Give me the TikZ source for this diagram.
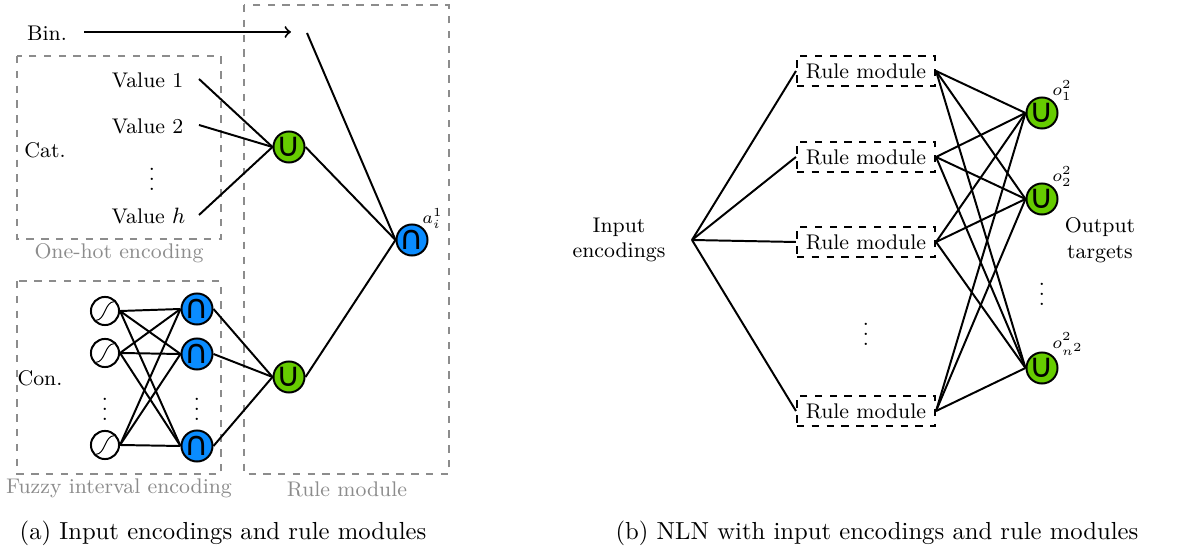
\documentclass[tikz,border=0pt]{standalone}
\usepackage{amsmath}
\usepackage{fontspec}
\newfontfamily\gatefont{DejaVu Sans}
\usetikzlibrary{calc}

\definecolor{orgreen}{RGB}{102,204,0}
\definecolor{andblue}{RGB}{10,140,255}
\definecolor{boxgray}{RGB}{140,140,140}

\newcommand{\orsym}{{\gatefont ∪}}
\newcommand{\andsym}{{\gatefont ∩}}

\begin{document}
\begin{tikzpicture}[x=0.01425cm,y=-0.01425cm,
	every node/.style={font=\fontsize{8.6}{10.5}\selectfont},
	conn/.style={thick},
	orgate/.style={circle,draw,thick,fill=orgreen,minimum size=11.8pt,inner sep=0pt,font=\fontsize{13.5}{13.5}\selectfont},
	andgate/.style={circle,draw,thick,fill=andblue,minimum size=12.2pt,inner sep=0pt,font=\fontsize{13.5}{13.5}\selectfont},
	sigm/.style={circle,draw,thick,fill=white,minimum size=11.4pt,inner sep=0pt,
		path picture={\draw[thin] ([xshift=-3.8pt,yshift=-3.8pt]path picture bounding box.center)
			.. controls +(4pt,0) and +(-4pt,0) .. ([xshift=3.8pt,yshift=3.8pt]path picture bounding box.center);}},
	encbox/.style={draw=boxgray,semithick,dashed},
	graylabel/.style={text=boxgray},
	rulebox/.style={draw,thick,dashed,minimum width=56pt,minimum height=12.2pt,inner sep=0.5pt},
	caption/.style={font=\normalsize}]

\useasboundingbox (0,0) rectangle (1185,547);

% (a) input encodings and rule modules
\draw[encbox] (17,56) rectangle (221,239);
\node[graylabel] (lonehot) at (119,253) {One-hot encoding};
\draw[encbox] (17,281) rectangle (221,474);
\node[graylabel] (lfuzzy) at (119,488) {Fuzzy interval encoding};
\draw[encbox] (244,5) rectangle (449,474);
\node[graylabel] (lrule) at (347,489) {Rule module};

\node (bin) at (47,33) {Bin.};
\node (cat) at (45,150) {Cat.};
\node (con) at (40,378) {Con.};

\node[anchor=east] (val1) at (192,80) {Value 1};
\node[anchor=east] (val2) at (192,126) {Value 2};
\node (valdots) at (152,172) {$\vdots$};
\node[anchor=east] (valh) at (194,216) {Value $h$};
\coordinate (v1) at (199,79);
\coordinate (v2) at (199,125);
\coordinate (vh) at (199,215);

\node[orgate] (orA) at (289,147) {\orsym};
\node[orgate] (orB) at (289,377) {\orsym};
\node[andgate] (andout) at (412,240) {\andsym};
\node[anchor=south west,inner sep=0pt,font=\scriptsize] (aout) at (422,229) {$a^1_i$};

\coordinate (binstart) at (84,32);
\coordinate (binarrow) at (291,32);
\coordinate (binend) at (307,33);
\draw[conn,->] (binstart) -- (binarrow);

\node[sigm] (sig1) at (105,311) {};
\node[sigm] (sig2) at (105,353) {};
\node[sigm] (sig3) at (105,445) {};
\node (sigdots) at (105,402) {$\vdots$};
\node[andgate] (and1) at (197,309) {\andsym};
\node[andgate] (and2) at (197,354) {\andsym};
\node[andgate] (and3) at (197,446) {\andsym};
\node (anddots) at (197,402) {$\vdots$};

\foreach \s in {1,2,3}{
\foreach \a in {1,2,3}{
	\draw[conn] (sig\s.east) -- (and\a.west);
}
}
\foreach \v in {v1,v2,vh}{
	\draw[conn] (\v) -- (orA.west);
}
\foreach \a in {1,2,3}{
	\draw[conn] (and\a.east) -- (orB.west);
}
\draw[conn] (orA.east) -- (andout.west);
\draw[conn] (orB.east) -- (andout.west);
\draw[conn] (binend) -- (andout.west);

\node[caption] (capa) at (223,533) {(a) Input encodings and rule modules};

% (b) NLN
\node[align=center] (inenc) at (619,240) {Input\\encodings};
\coordinate (inp) at (692,240);

\node[rulebox] (rm1) at (866,71) {Rule module};
\node[rulebox] (rm2) at (866,157) {Rule module};
\node[rulebox] (rm3) at (866,242) {Rule module};
\node (rmdots) at (866,327) {$\vdots$};
\node[rulebox] (rm4) at (866,411) {Rule module};

\node[orgate] (out1) at (1042,113) {\orsym};
\node[orgate] (out2) at (1042,199) {\orsym};
\node (outdots) at (1042,287) {$\vdots$};
\node[orgate] (out3) at (1042,368) {\orsym};
\node[anchor=south west,inner sep=0pt,font=\scriptsize] (o1) at (1052,101) {$o^2_1$};
\node[anchor=south west,inner sep=0pt,font=\scriptsize] (o2) at (1052,187) {$o^2_2$};
\node[anchor=south west,inner sep=0pt,font=\scriptsize] (o3) at (1052,356) {$o^2_{n^2}$};

\node[align=center] (outtgt) at (1100,240) {Output\\targets};

\foreach \r in {1,2,3,4}{
	\draw[conn] (inp) -- (rm\r.west);
	\foreach \o in {1,2,3}{
		\draw[conn] (rm\r.east) -- (out\o.west);
	}
}

\node[caption] (capb) at (877,533) {(b) NLN with input encodings and rule modules};
\end{tikzpicture}
\end{document}
